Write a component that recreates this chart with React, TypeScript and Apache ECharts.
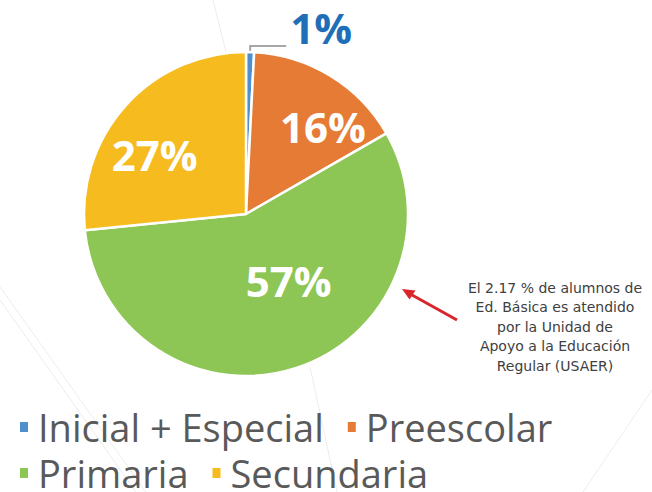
import React, { useEffect, useRef } from "react";
import * as echarts from "echarts";

const categories = ["Inicial + Especial", "Preescolar", "Primaria", "Secundaria"];
const values = [0.8, 15.9, 56.7, 26.6];
const colors = ["#4F8FCC", "#E57B34", "#8DC655", "#F5BB1F"];
const legendRow1 = ["Inicial + Especial", "Preescolar"];
const legendRow2 = ["Primaria", "Secundaria"];
const annotationLines = [
  "El 2.17 % de alumnos de",
  "Ed. Básica es atendido",
  "por la Unidad de",
  "Apoyo a la Educación",
  "Regular (USAER)",
];
const labelOffsets = [
  [0, -19],
  [33, -16],
  [17, -13],
  [-29, -3],
];

const FONT = "'Open Sans', 'Noto Sans', sans-serif";

export default function App() {
  const ref = useRef<HTMLDivElement>(null);
  useEffect(() => {
    if (!ref.current) return;
    const chart = echarts.init(ref.current, undefined, { renderer: "svg" });
    const bgLine = { stroke: "#ececec", lineWidth: 1 };
    const legendBase = {
      left: 13,
      orient: "horizontal",
      itemGap: 22,
      itemWidth: 10,
      itemHeight: 12,
      icon: "rect",
      textStyle: {
        fontFamily: FONT,
        fontSize: 38,
        color: "#595959",
        padding: [0, 0, 0, 4],
      },
    };
    chart.setOption({
      animation: false,
      backgroundColor: "#ffffff",
      legend: [
        { ...legendBase, top: 403, data: legendRow1 },
        { ...legendBase, top: 449, data: legendRow2 },
      ],
      graphic: [
        { type: "line", silent: true, z: -10, shape: { x1: 213, y1: 0, x2: 226, y2: 52 }, style: bgLine },
        { type: "line", silent: true, z: -10, shape: { x1: 0, y1: 287, x2: 146, y2: 492 }, style: bgLine },
        { type: "line", silent: true, z: -10, shape: { x1: 0, y1: 300, x2: 136, y2: 492 }, style: bgLine },
        { type: "line", silent: true, z: -10, shape: { x1: 310, y1: 367, x2: 337, y2: 492 }, style: bgLine },
        { type: "line", silent: true, z: -10, shape: { x1: 652, y1: 390, x2: 583, y2: 492 }, style: bgLine },
        {
          type: "text",
          x: 555,
          y: 278,
          style: {
            text: annotationLines.join("\n"),
            align: "center",
            verticalAlign: "top",
            fontFamily: "'DejaVu Sans', sans-serif",
            fontSize: 14,
            lineHeight: 19.5,
            fill: "#404040",
          },
        },
        {
          type: "line",
          shape: { x1: 457, y1: 320, x2: 412, y2: 295 },
          style: { stroke: "#D9262C", lineWidth: 3 },
        },
        {
          type: "polygon",
          shape: { points: [[402, 289], [415.5, 290.5], [409.5, 299.5]] },
          style: { fill: "#D9262C" },
        },
      ],
      series: [
        {
          type: "pie",
          center: [246, 214],
          radius: 162,
          startAngle: 90,
          clockwise: true,
          avoidLabelOverlap: false,
          itemStyle: { borderColor: "#ffffff", borderWidth: 2.5 },
          label: {
            show: true,
            position: "inside",
            color: "#ffffff",
            fontFamily: FONT,
            fontWeight: "bold",
            fontSize: 42,
            formatter: (p: any) => Math.round(p.value) + "%",
          },
          labelLine: { show: false },
          labelLayout: (p: any) => ({
            dx: labelOffsets[p.dataIndex][0],
            dy: labelOffsets[p.dataIndex][1],
          }),
          data: categories.map((name, i) => {
            const item: any = { name, value: values[i], itemStyle: { color: colors[i] } };
            if (i === 0) {
              item.label = {
                position: "outside",
                color: "#1F6FB8",
                fontSize: 42,
                fontWeight: "bold",
                distanceToLabelLine: 4,
              };
              item.labelLine = {
                show: true,
                length: 6,
                length2: 36,
                lineStyle: { color: "#A6A6A6", width: 2 },
              };
            }
            return item;
          }),
        },
      ],
    });
    return () => chart.dispose();
  }, []);
  return <div ref={ref} style={{ width: 652, height: 492, position: "absolute", left: 0, top: 0 }} />;
}
